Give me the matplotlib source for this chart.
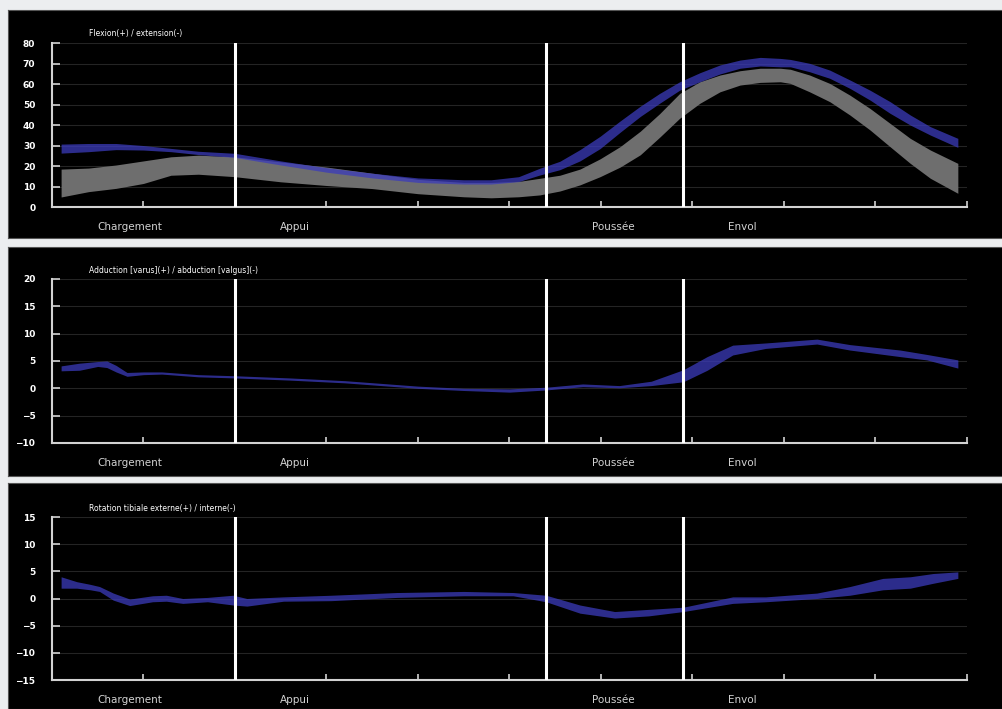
import matplotlib
matplotlib.use('Agg')
import matplotlib.pyplot as plt

# phases of the gait cycle (% of cycle)
phase_lines = [20, 54, 69]
phase_names = ['Chargement', 'Appui', 'Poussée', 'Envol']
phase_label_x = [8.5, 26.6, 61.4, 75.5]

# flexion / extension : subject (blue) and normal corridor (grey)
flex_x = [1, 4, 7, 10, 13, 16, 20, 25, 30, 35, 40, 45, 48, 51, 53.3, 55.5, 57.7, 59.9, 62.1, 64.3, 66.4, 68.6,
          70.8, 73, 75.2, 77.4, 79.6, 80.7, 82.8, 85, 87.2, 89.4, 91.6, 93.8, 96, 99]
flex_hi = [30.7, 31, 31, 30, 28.6, 27.2, 26.2, 22.5, 19.2, 16.5, 14.2, 13.3, 13.3, 14.8, 18.9, 22.3, 28, 34.5,
           42, 49.2, 55.4, 61.1, 65.5, 69.3, 71.7, 73, 72.5, 72, 70.1, 66.8, 62, 57, 51.4, 44.9, 39.2, 33.5]
flex_lo = [26.3, 27, 28, 27.8, 27, 25.6, 24.2, 20.5, 17, 14.2, 12, 11.2, 11.2, 12.4, 15.6, 18.2, 22.5, 28.5,
           36.5, 44.2, 50.6, 57, 61.1, 64.9, 67.7, 68.8, 68.4, 68.4, 66, 62.8, 57.9, 52.2, 45.7, 40, 35.1, 29.1]
norm_hi = [18.5, 19, 20.5, 22.5, 24.5, 25.3, 24.5, 22, 19.5, 16.5, 13.5, 12, 12, 12.5, 14, 15.5, 18.5, 23.5,
           29.5, 37, 45.5, 55.4, 61.1, 64.4, 66.5, 67.7, 67.7, 67.2, 64.4, 60.3, 54.6, 48.1, 40.8, 33.5, 27.8, 21.3]
norm_lo = [4.9, 7.5, 9.1, 11.5, 15.5, 16, 14.8, 12.3, 10.5, 9, 6.5, 5, 4.5, 5, 5.9, 7.8, 10.8, 14.8,
           19.5, 25.5, 34, 43.3, 50.6, 56.2, 59.5, 60.8, 61.1, 60.3, 56.2, 51.4, 44.9, 37.6, 29.4, 21.3, 14, 6.7]

# adduction / abduction
add_x = [1, 3, 5, 6, 7, 8.2, 10, 12, 16, 20, 26, 32, 40, 45, 50, 54, 58, 62, 65.5, 69, 71.6, 74.4, 78, 83.6, 87.2,
         92.7, 95.6, 99]
add_hi = [4.1, 4.6, 4.9, 5.0, 4.2, 2.9, 3.0, 3.0, 2.5, 2.3, 1.9, 1.4, 0.4, 0.0, -0.1, 0.2, 0.8, 0.5, 1.3, 3.4, 5.8,
          7.9, 8.3, 9.0, 8.0, 7.0, 6.2, 5.2]
add_lo = [3.2, 3.3, 4.0, 3.8, 3.0, 2.2, 2.5, 2.6, 2.1, 1.9, 1.5, 1.0, 0.0, -0.4, -0.7, -0.3, 0.3, 0.1, 0.5, 1.2, 3.3,
          6.1, 7.3, 8.1, 7.0, 5.8, 5.2, 3.7]

# tibial rotation
rot_x = [1, 2.7, 4.2, 5.2, 6.7, 8.5, 11, 12.5, 14.3, 17, 19.8, 21.3, 25.3, 30.5, 37.7, 45, 50.4, 54, 57.7, 61.5,
         65.2, 69, 74.4, 78, 83.6, 87.2, 90.8, 93.8, 96.3, 99]
rot_hi = [4.0, 3.1, 2.6, 2.2, 1.0, -0.1, 0.5, 0.6, 0.0, 0.2, 0.6, 0.0, 0.3, 0.6, 1.1, 1.3, 1.1, 0.6, -1.2, -2.4,
          -2.0, -1.6, 0.3, 0.3, 1.0, 2.2, 3.7, 4.0, 4.6, 4.9]
rot_lo = [1.9, 1.9, 1.6, 1.3, -0.3, -1.3, -0.6, -0.5, -0.9, -0.6, -1.2, -1.4, -0.5, -0.4, 0.2, 0.5, 0.5, -0.6, -2.7,
          -3.6, -3.2, -2.4, -0.9, -0.6, 0.0, 0.6, 1.6, 1.9, 2.8, 3.7]

BLUE = '#3b3bbb'
GREY = '#6e6e6e'
FG = '#d2d2d2'

fig = plt.figure(figsize=(10.03, 7.09), dpi=100, facecolor='#eceef0')

# black panel backgrounds (left, bottom, width, height)
for rect in [(0.008, 0.6643, 0.992, 0.3216), (0.008, 0.3286, 0.992, 0.3230), (0.008, 0.0, 0.992, 0.3188)]:
    bg = fig.add_axes(rect)
    bg.set_facecolor('black')
    bg.set_xticks([])
    bg.set_yticks([])
    for s in bg.spines.values():
        s.set_color('#555555')
        s.set_linewidth(0.8)


def draw_panel(rect, title, ylim, ystep, bands, title_off):
    ax = fig.add_axes(rect)
    ax.set_facecolor('none')
    for x, lo, hi, col, alpha in bands:
        ax.fill_between(x, lo, hi, color=col, alpha=alpha, lw=0, zorder=2)
    ax.set_xlim(0, 100)
    ax.set_ylim(*ylim)
    ax.set_xticks(range(0, 101, 10))
    ax.set_xticklabels([])
    ax.set_yticks(range(ylim[0], ylim[1] + 1, ystep))
    ax.yaxis.grid(True, color='#242424', lw=0.8, zorder=0)
    ax.set_axisbelow(True)
    ax.tick_params(axis='y', direction='in', length=5.5, width=1.2, color=FG, pad=12,
                   labelcolor='white', labelsize=6.5)
    ax.tick_params(axis='x', direction='in', length=4.5, width=1.2, color=FG)
    for lab in ax.get_yticklabels():
        lab.set_fontweight('bold')
    for s in ['top', 'right']:
        ax.spines[s].set_visible(False)
    for s in ['left', 'bottom']:
        ax.spines[s].set_color(FG)
        ax.spines[s].set_linewidth(1.5)
    for xv in phase_lines:
        ax.axvline(xv, color='white', lw=2.2, zorder=4)
    ax.text(0.04, 1 + title_off, title, transform=ax.transAxes, color='white', fontsize=5.5,
            va='center', ha='left')
    for name, xv in zip(phase_names, phase_label_x):
        ax.text(xv, -0.12, name, transform=ax.get_xaxis_transform(), color=FG, fontsize=7.5,
                ha='center', va='center')
    return ax


draw_panel([0.0518, 0.708, 0.9123, 0.2313], 'Flexion(+) / extension(-)', (0, 80), 10,
           [(flex_x, norm_lo, norm_hi, GREY, 1.0), (flex_x, flex_lo, flex_hi, BLUE, 0.75)], 0.06)
draw_panel([0.0518, 0.3752, 0.9123, 0.2313], 'Adduction [varus](+) / abduction [valgus](-)', (-10, 20), 5,
           [(add_x, add_lo, add_hi, BLUE, 0.75)], 0.05)
draw_panel([0.0518, 0.0409, 0.9123, 0.2299], 'Rotation tibiale externe(+) / interne(-)', (-15, 15), 5,
           [(rot_x, rot_lo, rot_hi, BLUE, 0.75)], 0.055)

fig.savefig('out.png', dpi=100, facecolor=fig.get_facecolor())
